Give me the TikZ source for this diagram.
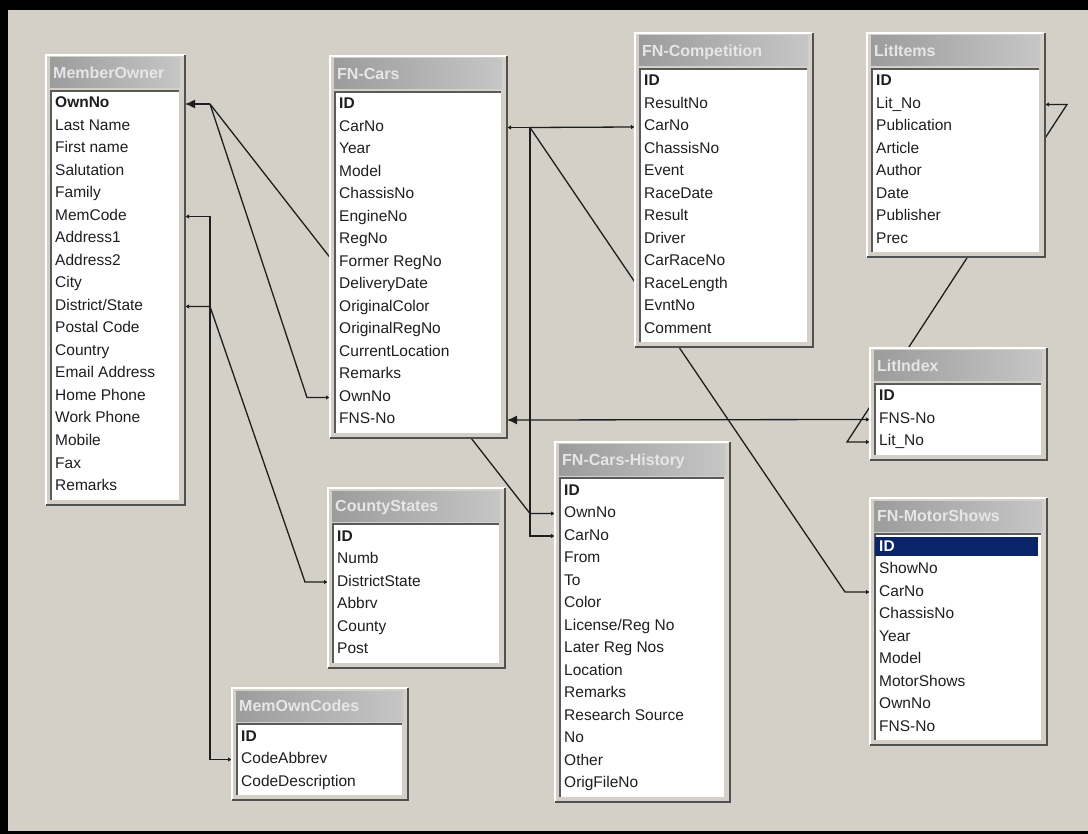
\documentclass[tikz,border=0pt]{standalone}
\usepackage{fontspec}
\setmainfont{Liberation Sans}
\usetikzlibrary{calc,arrows.meta}
\definecolor{bgc}{HTML}{D4D0C8}
\definecolor{titL}{HTML}{9C9C9C}
\definecolor{titR}{HTML}{C6C6C6}
\definecolor{titT}{HTML}{E6E6E6}
\definecolor{navy}{HTML}{0A246A}
\definecolor{ink}{HTML}{1E1E1E}
\definecolor{edgeD}{HTML}{505050}
\definecolor{listE}{HTML}{5A5A5A}
\pgfdeclarelayer{bg}
\pgfsetlayers{bg,main}
\tikzset{
  tabframe/.style={draw=none, fill=bgc, inner sep=0pt, outer sep=0pt, rectangle},
  tabtitle/.style={font=\fontsize{16}{18}\selectfont\bfseries, text=titT, inner sep=0pt, text height=11.5pt, text depth=3pt},
  fieldtxt/.style={font=\fontsize{15.5}{18}\selectfont, text=ink, inner sep=0pt, text height=11pt, text depth=3pt},
  conn/.style={draw=ink, line width=1.3pt},
  bigtip/.tip={Latex[length=10pt,width=9pt]},
  smalltip/.tip={Latex[length=4pt,width=4.5pt]},
}
\newcommand\hlrow[1]{\makebox[0pt][l]{\hspace{-4pt}\textcolor{navy}{\rule[-5pt]{163pt}{19pt}}}\textcolor{white}{\textbf{#1}}}
% #1 id, #2 x1, #3 y1, #4 x2, #5 rows, #6 title, #7 row list
\newcommand\dbtab[7]{%
  \pgfmathsetmacro\tabh{67+(#5-1)*22.5}%
  \pgfmathsetmacro\tabw{#4-#2}%
  \node[tabframe, minimum width=\tabw pt, minimum height=\tabh pt, anchor=north west] (#1) at (#2,#3) {};
  \draw[white, line width=1.2pt] (#1.south west) -- (#1.north west) -- (#1.north east);
  \draw[edgeD, line width=2pt] (#1.north east) -- (#1.south east) -- (#1.south west);
  \shade[left color=titL, right color=titR] ($(#1.north west)+(4,3)$) rectangle ($(#1.north east)+(-5,33)$);
  \node[tabtitle, anchor=west] (#1-title) at ($(#1.north west)+(7,19)$) {#6};
  \fill[white] ($(#1.north west)+(5,36)$) rectangle ($(#1.south east)+(-6,-5)$);
  \draw[listE, line width=1.5pt] ($(#1.south west)+(5,-5)$) -- ($(#1.north west)+(5,36)$) -- ($(#1.north east)+(-6,36)$);
  \foreach \fld [count=\i] in {#7} {
    \node[fieldtxt, anchor=west] (#1-\i) at ($(#1.north west)+(9,{49+(\i-1)*22.5})$) {\fld};
  }
}
\begin{document}
\begin{tikzpicture}[x=1pt,y=-1pt]
\useasboundingbox (0,0) rectangle (1088,834);

\dbtab{mo}{46}{55}{185}{18}{MemberOwner}{\textbf{OwnNo}, Last Name, First name, Salutation, Family, MemCode, Address1, Address2, City, District/State, Postal Code, Country, Email Address, Home Phone, Work Phone, Mobile, Fax, Remarks}
\dbtab{fc}{330}{56}{507}{15}{FN-Cars}{\textbf{ID}, CarNo, Year, Model, ChassisNo, EngineNo, RegNo, Former RegNo, DeliveryDate, OriginalColor, OriginalRegNo, CurrentLocation, Remarks, OwnNo, FNS-No}
\dbtab{fcomp}{635}{33}{813}{12}{FN-Competition}{\textbf{ID}, ResultNo, CarNo, ChassisNo, Event, RaceDate, Result, Driver, CarRaceNo, RaceLength, EvntNo, Comment}
\dbtab{li}{867}{33}{1045}{8}{LitItems}{\textbf{ID}, Lit\_No, Publication, Article, Author, Date, Publisher, Prec}
\dbtab{lx}{870}{348}{1047}{3}{LitIndex}{\textbf{ID}, FNS-No, Lit\_No}
\dbtab{ms}{870}{498}{1047}{9}{FN-MotorShows}{\hlrow{ID}, ShowNo, CarNo, ChassisNo, Year, Model, MotorShows, OwnNo, FNS-No}
\dbtab{cs}{328}{488}{505}{6}{CountyStates}{\textbf{ID}, Numb, DistrictState, Abbrv, County, Post}
\dbtab{moc}{232}{688}{408}{3}{MemOwnCodes}{\textbf{ID}, CodeAbbrev, CodeDescription}
\dbtab{fch}{555}{442}{730}{14}{FN-Cars-History}{\textbf{ID}, OwnNo, CarNo, From, To, Color, License/Reg No, Later Reg Nos, Location, Remarks, Research Source, No, Other, OrigFileNo}

\begin{pgfonlayer}{bg}
  \fill[bgc] (0,0) rectangle (1088,834);
  % MemberOwner.OwnNo
  \coordinate (j1) at ($(mo.east |- mo-1)+(25,0)$);
  \draw[conn, bigtip-] (mo.east |- mo-1) -- (j1);
  \draw[conn, -smalltip] (j1) -- ($(fc.west |- fc-14)+(-23,0)$) -- (fc.west |- fc-14);
  \draw[conn, -smalltip] (j1) -- ($(fch.west |- fch-2)+(-25,0)$) -- (fch.west |- fch-2);
  % MemberOwner.MemCode
  \draw[conn, smalltip-smalltip] (mo.east |- mo-6) -- ++(25,0) |- (moc.west |- moc-2);
  % MemberOwner.District/State
  \draw[conn, smalltip-smalltip] (mo.east |- mo-10) -- ++(25,0) -- ($(cs.west |- cs-3)+(-23,0)$) -- (cs.west |- cs-3);
  % FN-Cars.CarNo
  \coordinate (j2) at ($(fc.east |- fc-2)+(23,0)$);
  \draw[conn, smalltip-] (fc.east |- fc-2) -- (j2);
  \draw[conn, -smalltip] (j2) -- (fcomp.west |- fcomp-3);
  \draw[conn, -smalltip] (j2) |- (fch.west |- fch-3);
  \draw[conn, -smalltip] (j2) -- ($(ms.west |- ms-3)+(-25,0)$) -- (ms.west |- ms-3);
  % FN-Cars.FNS-No
  \draw[conn, bigtip-smalltip] (fc.east |- fc-15) -- (lx.west |- lx-2);
  % LitItems.Lit_No
  \draw[conn, smalltip-smalltip] (li.east |- li-2) -- ++(22,0) -- ($(lx.west |- lx-3)+(-23,0)$) -- (lx.west |- lx-3);
\end{pgfonlayer}

% outer black frame
\fill[black] (0,0) rectangle (8,834);
\fill[black] (0,0) rectangle (1088,10);
\fill[black] (0,831) rectangle (1088,834);
\end{tikzpicture}
\end{document}
